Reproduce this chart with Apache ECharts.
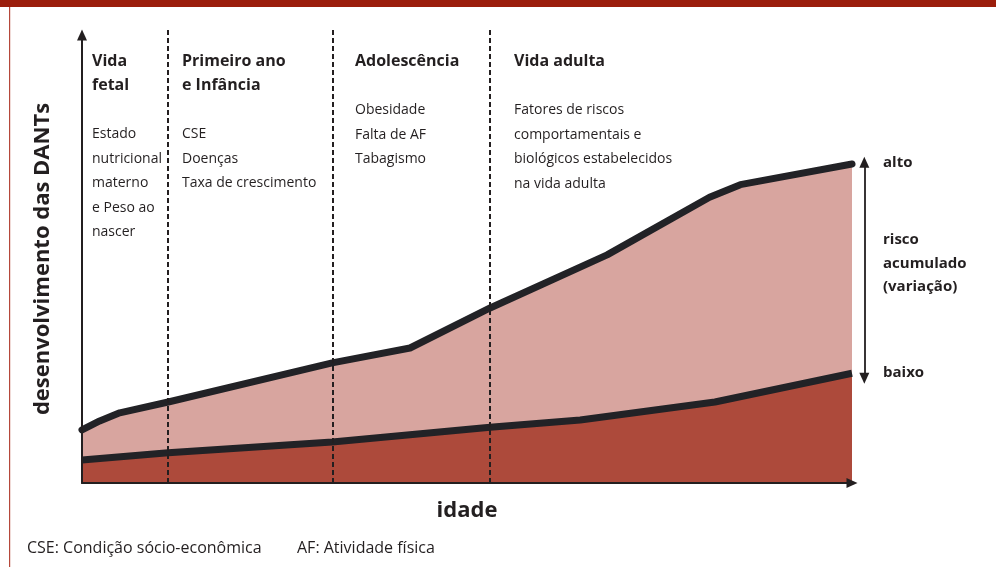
<!DOCTYPE html>
<html>
<head>
<meta charset="utf-8">
<script src="https://cdn.jsdelivr.net/npm/echarts@6/dist/echarts.min.js"></script>
<style>
html,body{margin:0;padding:0;background:#fff;}
#c{width:996px;height:567px;}
</style>
</head>
<body>
<div id="c"></div>
<script>
// x: age (0-100 relative), y: development (0-100 relative)
var upperX = [0, 2.3, 4.9, 11.2, 32.5, 42.6, 53, 68.2, 81.5, 85.5, 100];
var upperY = [11.8, 13.8, 15.6, 18, 26.7, 30, 38.9, 50.7, 63.5, 66.3, 70.9];
var lowerX = [0, 11.2, 32.5, 53, 64.7, 82.2, 100];
var lowerY = [5.1, 6.7, 9.1, 12.4, 14, 18, 24.4];
var phaseBounds = [11.2, 32.5, 53];
var riskRange = [23.3, 71.3];
var phaseTitles = ['Vida\nfetal', 'Primeiro ano\ne Infância', 'Adolescência', 'Vida adulta'];
var phaseItems = [
  'Estado\nnutricional\nmaterno\ne Peso ao\nnascer',
  'CSE\nDoenças\nTaxa de crescimento',
  'Obesidade\nFalta de AF\nTabagismo',
  'Fatores de riscos\ncomportamentais e\nbiológicos estabelecidos\nna vida adulta'
];
var riskLabels = ['alto', 'risco\nacumulado\n(variação)', 'baixo'];
var xName = 'idade';
var yName = 'desenvolvimento das DANTs';
var notes = ['CSE: Condição sócio-econômica', 'AF: Atividade física'];

function pairs(xs, ys){ return xs.map(function(x,i){return [x, ys[i]];}); }

var FONT = '"Open Sans", "Noto Sans", sans-serif';
var INK = '#231f20';
var chart = echarts.init(document.getElementById('c'));

var titleX = [92, 182, 355, 514];
var itemY = [122, 122, 98, 98];
var graphics = [
  {type:'rect', shape:{x:0,y:0,width:996,height:7}, style:{fill:'#9b1e0c'}, z:10},
  {type:'rect', shape:{x:9,y:7,width:1.2,height:560}, style:{fill:'#b5483a'}, z:10}
];
phaseTitles.forEach(function(t,i){
  graphics.push({type:'text', x:titleX[i], y:49, style:{text:t, fontFamily:FONT, fontSize:16, fontWeight:'bold', fill:INK, lineHeight:24}, z:10});
  graphics.push({type:'text', x:titleX[i], y:itemY[i], style:{text:phaseItems[i], fontFamily:FONT, fontSize:14, fill:INK, lineHeight:24.5}, z:10});
});
graphics.push({type:'text', x:883, y:155, style:{text:riskLabels[0], fontFamily:FONT, fontSize:15, fontWeight:'bold', fill:INK}, z:10});
graphics.push({type:'text', x:883, y:228, style:{text:riskLabels[1], fontFamily:FONT, fontSize:15, fontWeight:'bold', fill:INK, lineHeight:23.5}, z:10});
graphics.push({type:'text', x:883, y:365, style:{text:riskLabels[2], fontFamily:FONT, fontSize:15, fontWeight:'bold', fill:INK}, z:10});
graphics.push({type:'text', x:27, y:540, style:{text:notes[0], fontFamily:FONT, fontSize:16, fill:INK}, z:10});
graphics.push({type:'text', x:297, y:540, style:{text:notes[1], fontFamily:FONT, fontSize:16, fill:INK}, z:10});

var hiddenAxis = {show:false, type:'value', min:0, axisLine:{show:false}, axisTick:{show:false}, axisLabel:{show:false}, splitLine:{show:false}};

var option = {
  backgroundColor:'#fff',
  animation:false,
  grid:[
    {left:82, right:144, top:35, bottom:84},
    {left:82, right:44, top:28, bottom:84}
  ],
  xAxis:[
    {type:'value', gridIndex:0, min:0, max:100, name:xName, nameLocation:'middle', nameGap:17, z:5,
      nameTextStyle:{fontFamily:FONT, fontSize:22, fontWeight:'bold', color:INK},
      axisLine:{show:true, lineStyle:{color:INK, width:2}, symbol:['none','triangle'], symbolSize:[10,11]},
      axisTick:{show:false}, axisLabel:{show:false}, splitLine:{show:false}},
    Object.assign({}, hiddenAxis, {gridIndex:1, max:870/7.7})
  ],
  yAxis:[
    {type:'value', gridIndex:0, min:0, max:100 * 448 / 450, name:yName, nameLocation:'middle', nameGap:28, nameRotate:90, z:5,
      nameTextStyle:{fontFamily:FONT, fontSize:22, fontWeight:'bold', color:INK},
      axisLine:{show:true, lineStyle:{color:INK, width:2}, symbol:['none','triangle'], symbolSize:[10,11]},
      axisTick:{show:false}, axisLabel:{show:false}, splitLine:{show:false}},
    Object.assign({}, hiddenAxis, {gridIndex:1, max:455/4.5})
  ],
  graphic:graphics,
  series:[
    {type:'line', xAxisIndex:0, yAxisIndex:0, data:pairs(upperX, upperY), showSymbol:false, symbol:'none', z:2,
      lineStyle:{color:'#222226', width:7, cap:'round', join:'round'},
      areaStyle:{color:'#d8a59f', opacity:1, origin:'start'}},
    {type:'line', xAxisIndex:0, yAxisIndex:0, data:pairs(lowerX, lowerY), showSymbol:false, symbol:'none', z:3,
      lineStyle:{color:'#222226', width:7, join:'round'},
      areaStyle:{color:'#ad4a3b', opacity:1, origin:'start'}},
    {type:'line', xAxisIndex:1, yAxisIndex:1, data:[], z:4, silent:true,
      markLine:{silent:true, symbol:['none','none'], animation:false,
        lineStyle:{color:INK, type:[5,3], width:2},
        label:{show:false},
        data: phaseBounds.map(function(b){ return [{coord:[b,0]},{coord:[b,101]}]; }).concat([
          [{coord:[101.6, riskRange[0]], symbol:'triangle', symbolSize:[10,11], lineStyle:{type:'solid', width:1.8, color:INK}},
           {coord:[101.6, riskRange[1]], symbol:'triangle', symbolSize:[10,11]}]
        ])
      }
    }
  ]
};
chart.setOption(option);
</script>
</body>
</html>
